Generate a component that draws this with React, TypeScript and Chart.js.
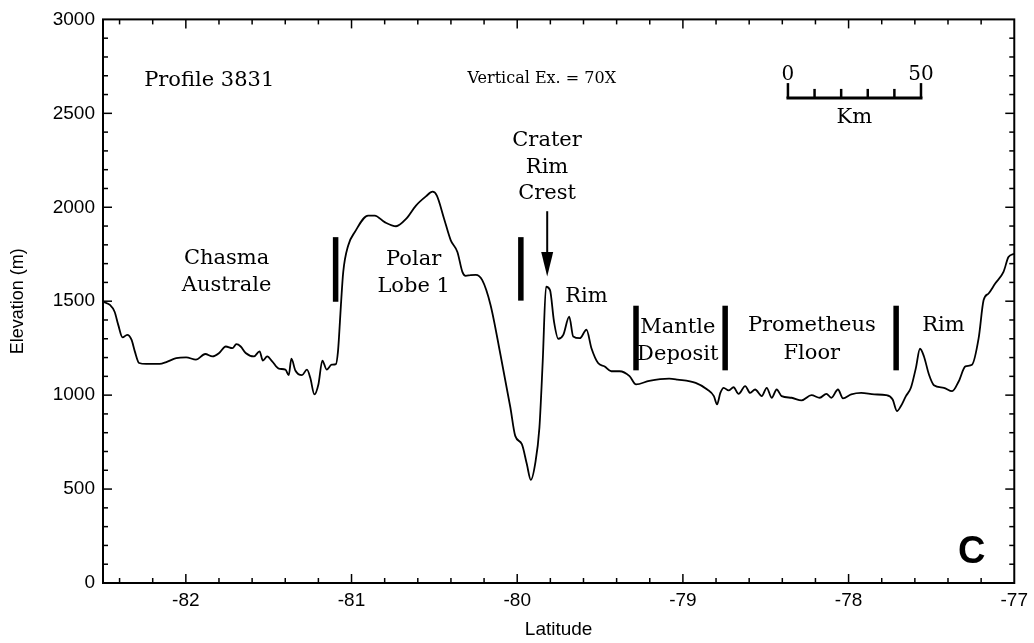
import React, { useEffect, useRef } from "react";
import { Chart, registerables } from "chart.js";
Chart.register(...registerables);

// ---- Data ----
const latitude = [
  -82.5, -82.458, -82.43, -82.408, -82.382, -82.354, -82.328, -82.308, -82.282, -82.239,
  -82.158, -82.118, -82.058, -81.998, -81.939, -81.883, -81.839, -81.799, -81.759, -81.719,
  -81.695, -81.669, -81.639, -81.589, -81.555, -81.535, -81.509, -81.479, -81.439, -81.399,
  -81.379, -81.363, -81.339, -81.299, -81.269, -81.249, -81.224, -81.2, -81.176, -81.15,
  -81.12, -81.094, -81.082, -81.076, -81.064, -81.05, -81.02, -80.98, -80.9, -80.86,
  -80.8, -80.731, -80.671, -80.611, -80.551, -80.511, -80.485, -80.441, -80.401, -80.361,
  -80.331, -80.311, -80.281, -80.25, -80.211, -80.161, -80.101, -80.041, -80.012, -79.972,
  -79.942, -79.918, -79.892, -79.866, -79.846, -79.826, -79.802, -79.778, -79.752, -79.722,
  -79.686, -79.662, -79.622, -79.582, -79.552, -79.512, -79.472, -79.432, -79.382, -79.322,
  -79.283, -79.203, -79.083, -79.033, -78.923, -78.853, -78.813, -78.794, -78.774, -78.754,
  -78.724, -78.694, -78.664, -78.624, -78.594, -78.564, -78.524, -78.494, -78.464, -78.434,
  -78.404, -78.344, -78.284, -78.224, -78.174, -78.134, -78.104, -78.064, -78.034, -77.984,
  -77.924, -77.845, -77.774, -77.734, -77.708, -77.684, -77.654, -77.624, -77.594, -77.569,
  -77.545, -77.515, -77.485, -77.425, -77.375, -77.335, -77.295, -77.255, -77.215, -77.185,
  -77.155, -77.115, -77.065, -77.035, -77.0,
];
const elevation = [
  1497, 1480, 1444, 1374, 1307, 1321, 1295, 1233, 1171, 1166,
  1166, 1176, 1197, 1201, 1189, 1219, 1206, 1224, 1259, 1250,
  1271, 1259, 1224, 1206, 1233, 1184, 1206, 1180, 1141, 1136,
  1106, 1194, 1131, 1106, 1136, 1092, 1004, 1057, 1184, 1136,
  1162, 1165, 1230, 1303, 1480, 1656, 1797, 1868, 1956, 1956,
  1921, 1899, 1938, 2009, 2058, 2083, 2062, 1938, 1824, 1762,
  1656, 1635, 1639, 1640, 1612, 1480, 1215, 933, 783, 739,
  633, 549, 633, 827, 1180, 1577, 1559, 1392, 1300, 1321,
  1418, 1312, 1303, 1348, 1250, 1171, 1153, 1127, 1127, 1101,
  1057, 1076, 1088, 1083, 1065, 1030, 995, 951, 1012, 1039,
  1025, 1042, 1007, 1048, 1012, 1030, 995, 1039, 986, 1030,
  995, 986, 972, 1000, 986, 1007, 986, 1030, 983, 1004,
  1012, 1004, 1000, 977, 915, 942, 995, 1039, 1144, 1247,
  1206, 1110, 1053, 1039, 1021, 1074, 1153, 1162, 1303, 1506,
  1541, 1594, 1656, 1735, 1753,
];

const xTickValues = [-82, -81, -80, -79, -78, -77];
const xTickLabels = ["-82", "-81", "-80", "-79", "-78", "-77"];
const yTickValues = [0, 500, 1000, 1500, 2000, 2500, 3000];
const yTickLabels = ["0", "500", "1000", "1500", "2000", "2500", "3000"];
const xMin = -82.5;
const xMax = -77;
const yMin = 0;
const yMax = 3000;
const xMinorStep = 0.2;
const yMinorStep = 100;

const xTitle = "Latitude";
const yTitle = "Elevation (m)";

// Annotations in data coordinates
const regionTexts = [
  { text: "Profile 3831", lat: -81.859, elev: 2646 },
  { text: "Chasma", lat: -81.754, elev: 1700 },
  { text: "Australe", lat: -81.754, elev: 1556 },
  { text: "Polar", lat: -80.625, elev: 1695 },
  { text: "Lobe 1", lat: -80.625, elev: 1550 },
  { text: "Crater", lat: -79.82, elev: 2328 },
  { text: "Rim", lat: -79.82, elev: 2185 },
  { text: "Crest", lat: -79.82, elev: 2042 },
  { text: "Rim", lat: -79.582, elev: 1497 },
  { text: "Mantle", lat: -79.031, elev: 1330 },
  { text: "Deposit", lat: -79.031, elev: 1189 },
  { text: "Prometheus", lat: -78.222, elev: 1339 },
  { text: "Floor", lat: -78.222, elev: 1190 },
  { text: "Rim", lat: -77.428, elev: 1339 },
  { text: "Km", lat: -77.965, elev: 2450 },
];
const smallTexts = [{ text: "Vertical Ex. = 70X", lat: -79.852, elev: 2661 }];
const scaleBarLabels = [
  { text: "0", lat: -78.366, elev: 2677 },
  { text: "50", lat: -77.563, elev: 2677 },
];
const scaleBarStart = -78.366;
const scaleBarEnd = -77.563;
const scaleBarElev = 2582;
const scaleBarEndTickTop = 2661;
const scaleBarMinorTickTop = 2630;
const scaleBarDivisions = 5;

const boundaryLats = [-81.096, -79.978, -79.283, -78.745, -77.713];
const boundaryTop = [1841, 1841, 1476, 1476, 1476];
const boundaryBottom = [1497, 1503, 1132, 1132, 1132];

const arrowLat = -79.819;
const arrowTopElev = 1979;
const arrowHeadBaseElev = 1762;
const arrowTipElev = 1632;

const panelLetter = { text: "C", lat: -77.257, elev: 106 };

const SERIF = '"DejaVu Serif", serif';
const SANS = '"Liberation Sans", Arial, sans-serif';

const annotationPlugin = {
  id: "profileAnnotations",
  afterDraw(chart: any) {
    const { ctx, chartArea: a, scales } = chart;
    const x = scales.x;
    const y = scales.y;
    ctx.save();
    ctx.strokeStyle = "#000";
    ctx.fillStyle = "#000";

    // frame
    ctx.lineWidth = 2;
    ctx.strokeRect(a.left, a.top, a.right - a.left, a.bottom - a.top);

    // inward ticks
    ctx.lineWidth = 1.5;
    const line = (x1: number, y1: number, x2: number, y2: number) => {
      ctx.beginPath();
      ctx.moveTo(x1, y1);
      ctx.lineTo(x2, y2);
      ctx.stroke();
    };
    const kx0 = Math.ceil(xMin / xMinorStep - 1e-6);
    const kx1 = Math.floor(xMax / xMinorStep + 1e-6);
    for (let k = kx0; k <= kx1; k++) {
      const v = k * xMinorStep;
      if (v <= xMin + 1e-6 || v >= xMax - 1e-6) continue;
      const major = xTickValues.some((t) => Math.abs(t - v) < 1e-6);
      const len = major ? 9 : 5;
      const px = x.getPixelForValue(v);
      line(px, a.bottom, px, a.bottom - len);
      line(px, a.top, px, a.top + len);
    }
    const ky0 = Math.ceil(yMin / yMinorStep);
    const ky1 = Math.floor(yMax / yMinorStep);
    for (let k = ky0; k <= ky1; k++) {
      const v = k * yMinorStep;
      if (v <= yMin || v >= yMax) continue;
      const major = yTickValues.includes(v);
      const len = major ? 9 : 5;
      const py = y.getPixelForValue(v);
      line(a.left, py, a.left + len, py);
      line(a.right, py, a.right - len, py);
    }

    // texts
    ctx.textAlign = "center";
    ctx.textBaseline = "alphabetic";
    ctx.font = `21px ${SERIF}`;
    regionTexts.forEach((t) => {
      ctx.fillText(t.text, x.getPixelForValue(t.lat), y.getPixelForValue(t.elev));
    });
    ctx.font = `16px ${SERIF}`;
    smallTexts.forEach((t) => {
      ctx.fillText(t.text, x.getPixelForValue(t.lat), y.getPixelForValue(t.elev));
    });
    ctx.font = `20px ${SERIF}`;
    scaleBarLabels.forEach((t) => {
      ctx.fillText(t.text, x.getPixelForValue(t.lat), y.getPixelForValue(t.elev));
    });

    // scale bar
    const sx0 = x.getPixelForValue(scaleBarStart);
    const sx1 = x.getPixelForValue(scaleBarEnd);
    const sy = y.getPixelForValue(scaleBarElev);
    ctx.lineWidth = 3;
    line(sx0 - 1.5, sy, sx1 + 1.5, sy);
    ctx.lineWidth = 2.5;
    for (let i = 0; i <= scaleBarDivisions; i++) {
      const px = sx0 + ((sx1 - sx0) * i) / scaleBarDivisions;
      const top =
        i === 0 || i === scaleBarDivisions
          ? y.getPixelForValue(scaleBarEndTickTop)
          : y.getPixelForValue(scaleBarMinorTickTop);
      line(px, sy, px, top);
    }

    // boundary bars
    ctx.lineWidth = 5.5;
    boundaryLats.forEach((lat, i) => {
      const px = x.getPixelForValue(lat);
      line(px, y.getPixelForValue(boundaryTop[i]), px, y.getPixelForValue(boundaryBottom[i]));
    });

    // arrow
    const ax = x.getPixelForValue(arrowLat);
    const aTop = y.getPixelForValue(arrowTopElev);
    const aBase = y.getPixelForValue(arrowHeadBaseElev);
    const aTip = y.getPixelForValue(arrowTipElev);
    ctx.lineWidth = 2;
    line(ax, aTop, ax, aBase + 2);
    ctx.beginPath();
    ctx.moveTo(ax - 6, aBase);
    ctx.lineTo(ax + 6, aBase);
    ctx.lineTo(ax, aTip);
    ctx.closePath();
    ctx.fill();

    // panel letter
    ctx.font = `bold 38px ${SANS}`;
    ctx.fillText(panelLetter.text, x.getPixelForValue(panelLetter.lat), y.getPixelForValue(panelLetter.elev));

    ctx.restore();
  },
};

export default function App() {
  const canvasRef = useRef<HTMLCanvasElement | null>(null);

  useEffect(() => {
    if (!canvasRef.current) return;
    const points = latitude.map((lat, i) => ({ x: lat, y: elevation[i] }));
    const chart = new Chart(canvasRef.current, {
      type: "line",
      data: {
        datasets: [
          {
            data: points,
            borderColor: "#000",
            borderWidth: 1.8,
            pointRadius: 0,
            fill: false,
            cubicInterpolationMode: "monotone",
          },
        ],
      },
      options: {
        responsive: false,
        animation: false,
        devicePixelRatio: 1,
        layout: { padding: { top: 16, right: 16, left: 0, bottom: 0 } },
        plugins: { legend: { display: false }, tooltip: { enabled: false } },
        scales: {
          x: {
            type: "linear",
            min: xMin,
            max: xMax,
            grid: { display: false, drawTicks: false },
            border: { display: false },
            afterBuildTicks: (scale: any) => {
              scale.ticks = xTickValues.map((v) => ({ value: v }));
            },
            afterFit: (scale: any) => {
              scale.height = 60;
            },
            ticks: {
              color: "#000",
              padding: 6,
              maxRotation: 0,
              autoSkip: false,
              font: { family: SANS, size: 19 },
              callback: (v: any) => {
                const i = xTickValues.findIndex((t) => Math.abs(t - Number(v)) < 1e-6);
                return i >= 0 ? xTickLabels[i] : "";
              },
            },
            title: {
              display: true,
              text: xTitle,
              color: "#000",
              font: { family: SANS, size: 19 },
              padding: { top: 0, bottom: 2 },
            },
          },
          y: {
            type: "linear",
            min: yMin,
            max: yMax,
            grid: { display: false, drawTicks: false },
            border: { display: false },
            afterBuildTicks: (scale: any) => {
              scale.ticks = yTickValues.map((v) => ({ value: v }));
            },
            afterFit: (scale: any) => {
              scale.width = 103;
            },
            ticks: {
              color: "#000",
              padding: 8,
              autoSkip: false,
              font: { family: SANS, size: 19 },
              callback: (v: any) => {
                const i = yTickValues.indexOf(Number(v));
                return i >= 0 ? yTickLabels[i] : "";
              },
            },
            title: {
              display: true,
              text: yTitle,
              color: "#000",
              font: { family: SANS, size: 18 },
              padding: { top: 7, bottom: 0 },
            },
          },
        },
      },
      plugins: [annotationPlugin],
    });
    return () => chart.destroy();
  }, []);

  return (
    <div style={{ position: "fixed", left: 0, top: 0, width: 1034, height: 643, background: "#fff" }}>
      <canvas ref={canvasRef} width={1034} height={643} />
    </div>
  );
}
